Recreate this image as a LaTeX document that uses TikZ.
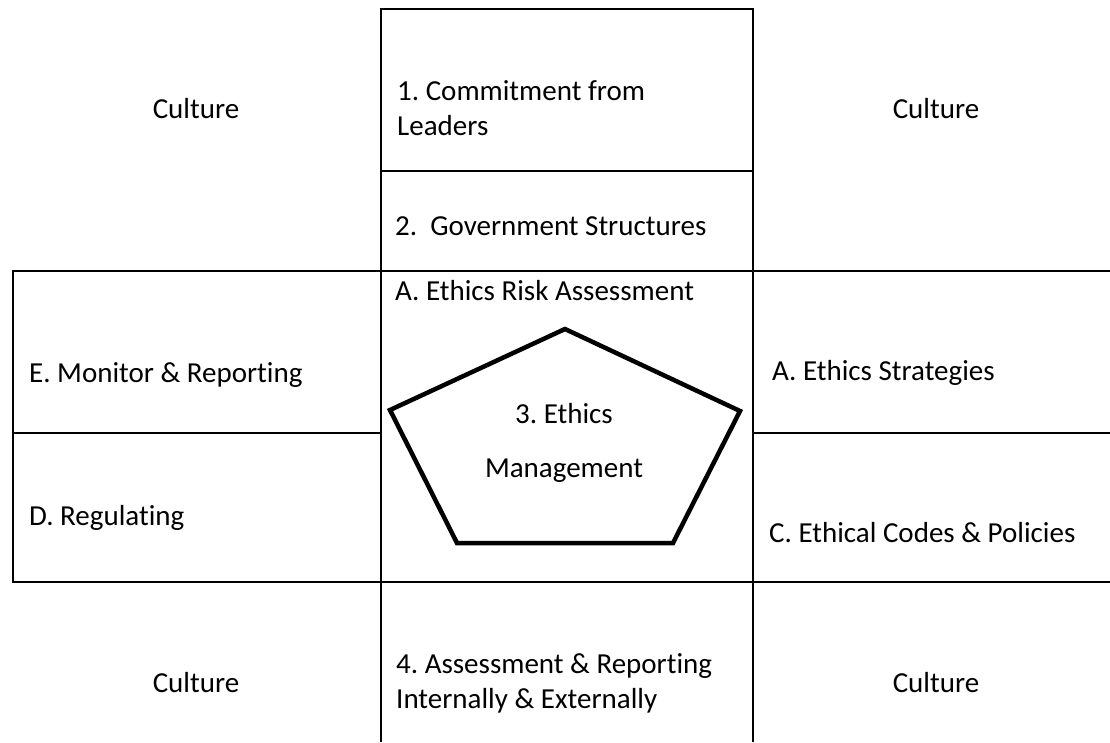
\documentclass[tikz,border=0pt]{standalone}
\usepackage{fontspec}
\setmainfont{Carlito}[Ligatures=NoCommon]
\frenchspacing
\begin{document}
\begin{tikzpicture}[x=1pt, y=-1pt,
    cell/.style={draw, line width=1.8pt},
    penta/.style={draw, line width=4.5pt, line join=miter},
    lbl/.style={anchor=base west, inner sep=0pt, align=left,
                font=\fontsize{29}{35}\selectfont},
    cult/.style={anchor=base, inner sep=0pt, font=\fontsize{29}{35}\selectfont}
]
    \useasboundingbox (0,0) rectangle (1110,742);

    % central column
    \draw[cell] (381,9) rectangle (753,171);
    \draw[cell] (381,171) -- (381,742);
    \draw[cell] (753,171) -- (753,742);
    % side boxes
    \draw[cell] (1112,271) -- (13,271) -- (13,582) -- (1112,582);
    \draw[cell] (13,433) -- (381,433);
    \draw[cell] (753,433) -- (1112,433);

    % pentagon
    \draw[penta] (565,329) -- (740,411) -- (673,543) -- (457,543) -- (390,410) -- cycle;

    % multi-line nodes sit on the baseline of their last line
    \node[lbl] (lead) at (397,135) {1. Commitment from\\Leaders};
    \node[lbl] (gov) at (395,235) {2.\ \ Government Structures};
    \node[lbl] (risk) at (395,300) {A. Ethics Risk Assessment};
    \node[lbl] (mon) at (29,382) {E. Monitor \& Reporting};
    \node[lbl] (reg) at (29,525) {D. Regulating};
    \node[lbl] (strat) at (772,380) {A. Ethics Strategies};
    \node[lbl] (codes) at (769,542) {C. Ethical Codes \& Policies};
    \node[lbl] (rep) at (396,708) {4. Assessment \& Reporting\\Internally \& Externally};

    \node[cult] (eth) at (564,423) {3. Ethics};
    \node[cult] (mgmt) at (564,477) {Management};

    \node[cult] (c1) at (196,118) {Culture};
    \node[cult] (c2) at (936,118) {Culture};
    \node[cult] (c3) at (196,692) {Culture};
    \node[cult] (c4) at (936,692) {Culture};
\end{tikzpicture}
\end{document}
